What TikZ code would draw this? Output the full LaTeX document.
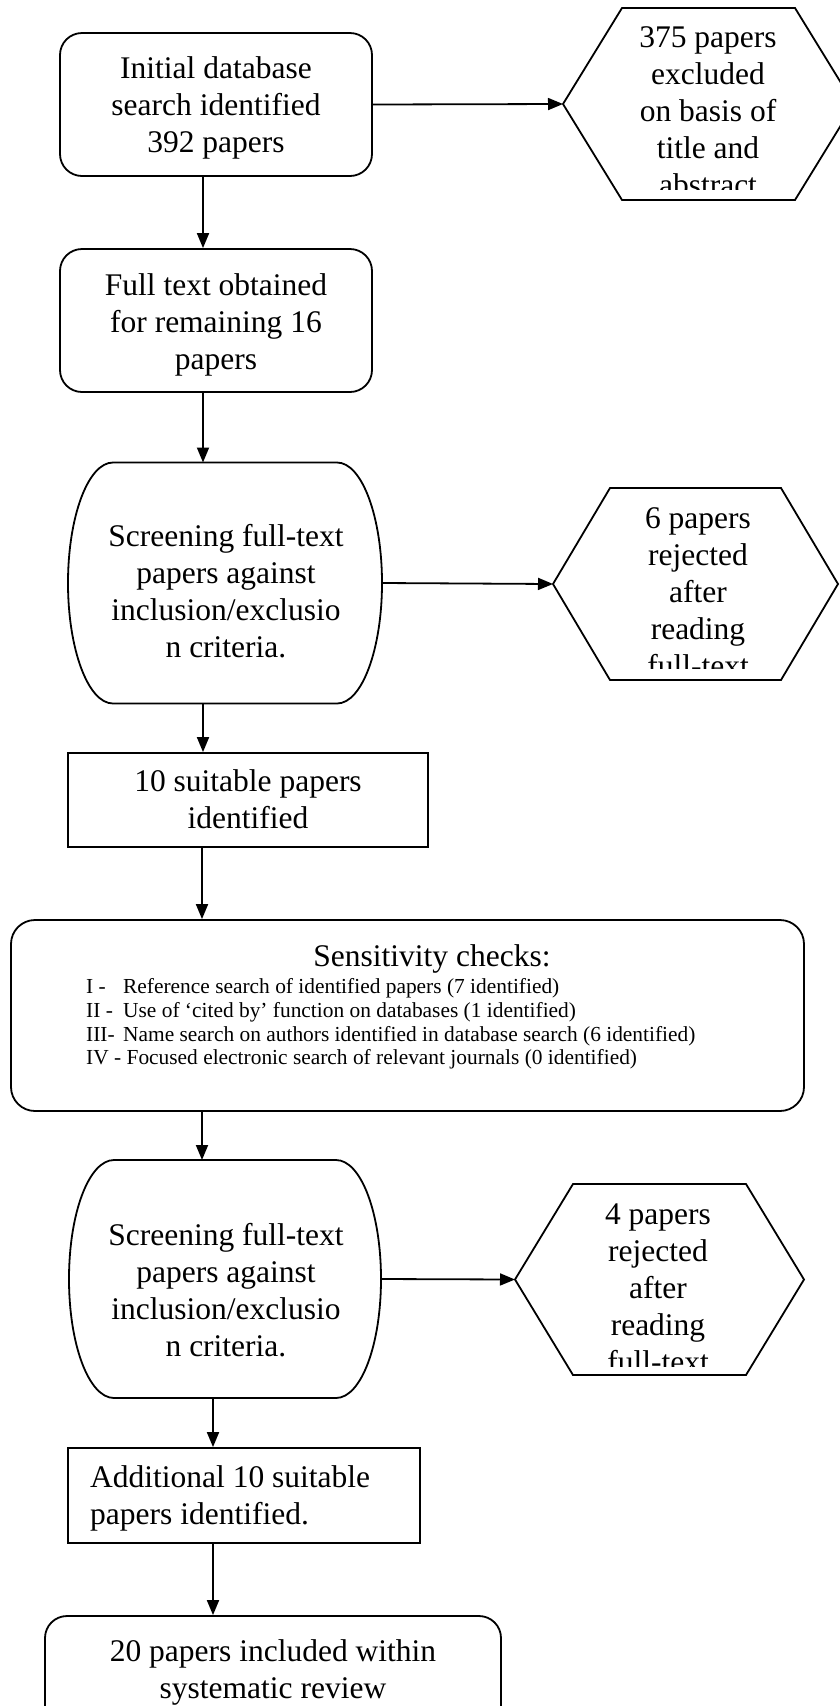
\documentclass[tikz,border=0pt]{standalone}
\usepackage{fontspec}
\setmainfont{Liberation Serif}
\usetikzlibrary{arrows.meta,calc}
\newcommand\hexdraw[2]{\draw[lw] (#1.west) -- ($(#1.north west)+(#2,0)$) -- ($(#1.north east)+(-#2,0)$) -- (#1.east) -- ($(#1.south east)+(-#2,0)$) -- ($(#1.south west)+(#2,0)$) -- cycle;}
\newcommand\ovaldraw[1]{\draw[lw] ($(#1.north west)+(45,0)$) -- ($(#1.north east)+(-45,0)$)
  .. controls ($(#1.north east)+(-20,0)$) and ($(#1.east)+(0,-66)$) .. (#1.east)
  .. controls ($(#1.east)+(0,66)$) and ($(#1.south east)+(-20,0)$) .. ($(#1.south east)+(-45,0)$)
  -- ($(#1.south west)+(45,0)$)
  .. controls ($(#1.south west)+(20,0)$) and ($(#1.west)+(0,66)$) .. (#1.west)
  .. controls ($(#1.west)+(0,-66)$) and ($(#1.north west)+(20,0)$) .. ($(#1.north west)+(45,0)$) -- cycle;}
\begin{document}
\begin{tikzpicture}[x=1pt,y=-1pt,
  lw/.style={line width=1.8pt},
  arr/.style={lw,-{Triangle[length=15pt,width=12pt]}},
  rbox/.style={draw,lw,rounded corners=22pt,inner sep=0pt},
  sbox/.style={draw,lw,inner sep=0pt},
  area/.style={inner sep=0pt,outer sep=0pt},
  txt/.style={font=\fontsize{31.5}{37}\selectfont,align=center,inner sep=0pt},
  smalltxt/.style={font=\fontsize{21.4}{23.7}\selectfont,align=left,inner sep=0pt}]
\path[use as bounding box,clip] (0,0) rectangle (840,1706);
\fill[white] (0,0) rectangle (840,1706);

% box 1
\node[rbox,minimum width=312,minimum height=143] (b1) at (216,104.5) {};
\node[txt] (t1) at (216,108) {Initial database\\search identified\\392 papers};
% hexagon 1
\node[area,minimum width=291,minimum height=192] (h1) at (708.5,104) {};
\hexdraw{h1}{59}
\begin{scope}
\clip (563,8) rectangle (840,189);
\node[txt] (ht1) at (708,111) {375 papers\\excluded\\on basis of\\title and\\abstract};
\end{scope}
% box 2
\node[rbox,minimum width=312,minimum height=143] (b2) at (216,320.5) {};
\node[txt] (t2) at (216,325) {Full text obtained\\for remaining 16\\papers};
% oval 1
\node[area,minimum width=314,minimum height=241] (s1) at (225,583) {};
\ovaldraw{s1}
\node[txt] (t3) at (226,591) {Screening full-text\\papers against\\inclusion/exclusio\\n criteria.};
% hexagon 2
\node[area,minimum width=285,minimum height=192] (h2) at (695.5,584) {};
\hexdraw{h2}{57}
\begin{scope}
\clip (553,488) rectangle (840,668);
\node[txt] (ht2) at (698,592) {6 papers\\rejected\\after\\reading\\full-text};
\end{scope}
% box 4
\node[sbox,minimum width=360,minimum height=94] (b4) at (248,800) {};
\node[txt] (t4) at (248,799) {10 suitable papers\\identified};
% sensitivity box
\node[draw,lw,rounded corners=24pt,minimum width=793,minimum height=191,inner sep=0pt] (sb) at (407.5,1015.5) {};
\node[txt] (sh) at (432,959) {Sensitivity checks:};
\node[smalltxt,anchor=west] (sl) at (86,1024) {\makebox[37pt][l]{I -}Reference search of identified papers (7 identified)\\
\makebox[37pt][l]{II -}Use of ‘cited by’ function on databases (1 identified)\\
\makebox[37pt][l]{III-}Name search on authors identified in database search (6 identified)\\
IV - Focused electronic search of relevant journals (0 identified)};
% oval 2
\node[area,minimum width=312,minimum height=238] (s2) at (225,1279) {};
\ovaldraw{s2}
\node[txt] (t5) at (226,1290) {Screening full-text\\papers against\\inclusion/exclusio\\n criteria.};
% hexagon 3
\node[area,minimum width=289,minimum height=191] (h3) at (659.5,1279.5) {};
\hexdraw{h3}{58}
\begin{scope}
\clip (515,1184) rectangle (840,1366);
\node[txt] (ht3) at (658,1288) {4 papers\\rejected\\after\\reading\\full-text};
\end{scope}
% box 6
\node[sbox,minimum width=352,minimum height=95] (b6) at (244,1495.5) {};
\node[txt,align=left,anchor=west] (t6) at (90,1498) {Additional 10 suitable\\papers identified.};
% box 7
\node[rbox,minimum width=456,minimum height=120] (b7) at (273,1676) {};
\node[txt] (t7) at (273,1672) {20 papers included within\\systematic review};

% connectors
\coordinate (v1) at ($(b4.south)+(-46,0)$);
\draw[arr] (b1.east) -- (h1.west);
\draw[arr] ($(b1.south)+(-13,0)$) -- ($(b2.north)+(-13,0)$);
\draw[arr] ($(b2.south)+(-13,0)$) -- ($(s1.north)+(-22,0)$);
\draw[arr] (s1.east) -- (h2.west);
\draw[arr] ($(s1.south)+(-22,0)$) -- ($(b4.north)+(-45,0)$);
\draw[arr] (v1) -- (v1 |- sb.north);
\draw[arr] (v1 |- sb.south) -- ($(s2.north)+(-23,0)$);
\draw[arr] (s2.east) -- (h3.west);
\draw[arr] ($(s2.south)+(-12,0)$) -- ($(b6.north)+(-31,0)$);
\draw[arr] ($(b6.south)+(-31,0)$) -- ($(b7.north)+(-60,0)$);
\end{tikzpicture}
\end{document}
